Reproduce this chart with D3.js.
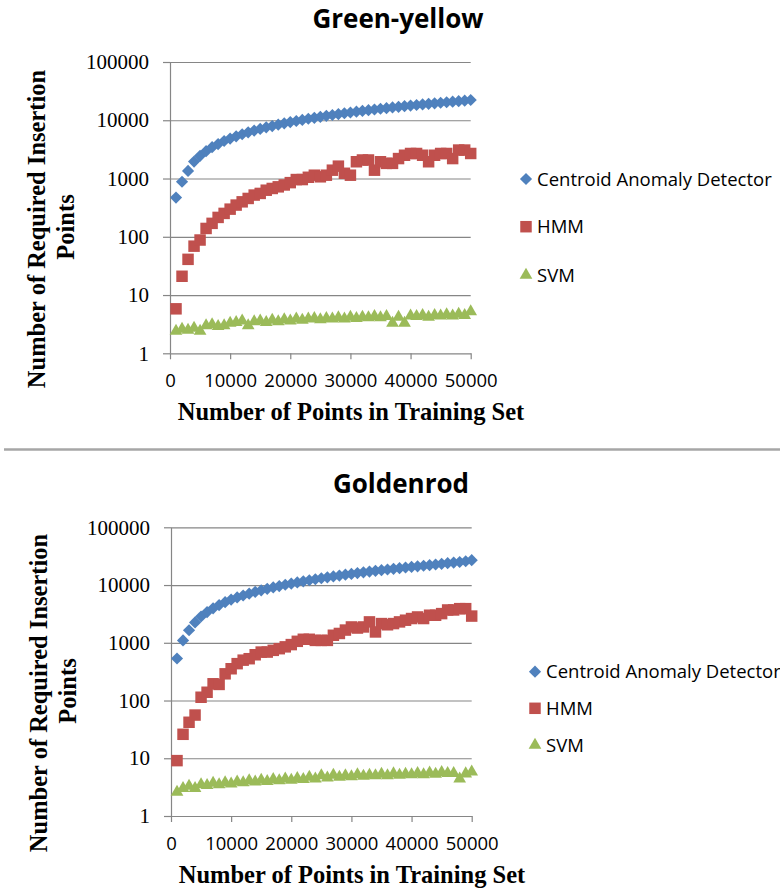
<!DOCTYPE html>
<html>
<head>
<meta charset="utf-8">
<script src="https://cdn.jsdelivr.net/npm/d3@7"></script>
<style>
  body { margin: 0; background: #fff; }
  svg { display: block; }
</style>
</head>
<body>
<div id="chart-area"></div>
<script>
var trainingSizes = [1000, 2000, 3000, 4000, 5000, 6000, 7000, 8000, 9000, 10000,
  11000, 12000, 13000, 14000, 15000, 16000, 17000, 18000, 19000, 20000,
  21000, 22000, 23000, 24000, 25000, 26000, 27000, 28000, 29000, 30000,
  31000, 32000, 33000, 34000, 35000, 36000, 37000, 38000, 39000, 40000,
  41000, 42000, 43000, 44000, 45000, 46000, 47000, 48000, 49000, 50000];

var seriesNames = ['Centroid Anomaly Detector', 'HMM', 'SVM'];
var xTicks = [0, 10000, 20000, 30000, 40000, 50000];
var yTicks = [1, 10, 100, 1000, 10000, 100000];
var chartTitles = ['Green-yellow', 'Goldenrod'];

// Green-yellow
var gyCentroid = [470, 880, 1350, 1950, 2450, 2950, 3450, 3900, 4400, 4850,
  5300, 5750, 6200, 6650, 7100, 7550, 7950, 8400, 8850, 9300,
  9700, 10150, 10600, 11000, 11450, 11900, 12300, 12750, 13200, 13600,
  14050, 14450, 14900, 15300, 15750, 16150, 16600, 17000, 17450, 17850,
  18300, 18700, 19150, 19550, 20000, 20400, 20850, 21250, 21700, 22300];
var gyHmm = [5.8, 21, 41, 69, 88, 139, 170, 215, 252, 298,
  350, 398, 455, 520, 555, 630, 675, 720, 775, 850,
  960, 960, 1050, 1140, 1070, 1140, 1390, 1630, 1230, 1140,
  1940, 2080, 2080, 1390, 1940, 1820, 1820, 2200, 2510, 2690,
  2690, 2510, 1940, 2510, 2690, 2690, 2200, 3080, 3080, 2690];
var gySvm = [2.4, 2.6, 2.5, 2.7, 2.4, 3.0, 3.1, 2.9, 3.0, 3.3,
  3.4, 3.6, 3.0, 3.5, 3.6, 3.4, 3.7, 3.5, 3.8, 3.6,
  3.9, 3.7, 3.9, 4.0, 3.8, 4.0, 3.9, 4.1, 3.9, 4.2,
  4.0, 4.2, 4.1, 4.3, 4.1, 4.3, 3.3, 4.2, 3.3, 4.4,
  4.3, 4.5, 4.2, 4.5, 4.4, 4.6, 4.4, 4.7, 4.5, 5.2];

// Goldenrod
var grCentroid = [535, 1100, 1650, 2250, 2850, 3400, 3950, 4500, 5050, 5600,
  6100, 6600, 7100, 7600, 8100, 8600, 9100, 9600, 10100, 10600,
  11100, 11600, 12100, 12600, 13100, 13600, 14100, 14600, 15100, 15600,
  16100, 16600, 17100, 17600, 18100, 18600, 19100, 19600, 20100, 20600,
  21100, 21600, 22100, 22700, 23300, 23900, 24500, 25100, 25800, 27000];
var grHmm = [9.1, 26, 42, 56, 114, 139, 195, 190, 290, 355,
  435, 500, 530, 620, 690, 690, 740, 790, 850, 930,
  1060, 1150, 1150, 1100, 1100, 1100, 1350, 1450, 1660, 1880,
  1800, 1880, 2300, 1540, 2150, 2050, 2150, 2300, 2460, 2630,
  2800, 2630, 3000, 3000, 3200, 3700, 3700, 3900, 3900, 2900];
var grSvm = [2.6, 3.0, 3.3, 3.0, 3.5, 3.4, 3.7, 3.5, 3.8, 3.6,
  3.9, 3.8, 4.1, 3.9, 4.2, 4.0, 4.3, 4.1, 4.4, 4.2,
  4.5, 4.3, 4.7, 4.4, 5.0, 4.6, 5.1, 4.7, 5.0, 4.8,
  5.2, 4.9, 5.1, 5.0, 5.3, 5.0, 5.4, 5.1, 5.3, 5.2,
  5.5, 5.2, 5.6, 5.3, 5.7, 5.5, 5.5, 4.4, 5.4, 5.8];

var colors = ['#4f81bd', '#c0504d', '#9bbb59'];
var gridColor = '#868686';

var svg = d3.select('#chart-area').append('svg')
  .attr('width', 780)
  .attr('height', 890);

// separator between the two charts
svg.append('line')
  .attr('x1', 4).attr('x2', 780)
  .attr('y1', 449.5).attr('y2', 449.5)
  .attr('stroke', '#a6a6a6')
  .attr('stroke-width', 2.4);

function markerPath(i) {
  if (i === 0) return d3.symbol().type(d3.symbolSquare).size(74)();
  if (i === 1) return d3.symbol().type(d3.symbolSquare).size(132)();
  return d3.symbol().type(d3.symbolTriangle).size(70)();
}

function markerTransform(i, px, py) {
  return 'translate(' + px + ',' + py + ')' + (i === 0 ? ' rotate(45)' : '');
}

function drawChart(cfg) {
  var g = svg.append('g');

  var x = d3.scaleLinear()
    .domain([0, 50000])
    .range([cfg.left, cfg.right]);

  var y = d3.scaleLog()
    .domain([1, 100000])
    .range([cfg.bottom, cfg.top]);

  // horizontal gridlines
  g.append('g')
    .attr('transform', 'translate(' + cfg.left + ',0)')
    .call(d3.axisRight(y).tickValues(yTicks.slice(1)).tickSize(cfg.right - cfg.left).tickFormat(''))
    .call(function(a) {
      a.select('.domain').remove();
      a.selectAll('line').attr('stroke', gridColor).attr('stroke-width', 1.2);
    });

  var yAxis = g.append('g')
    .attr('transform', 'translate(' + cfg.left + ',0)')
    .call(d3.axisLeft(y).tickValues(yTicks).tickFormat(d3.format('d'))
      .tickSizeInner(7).tickSizeOuter(0).tickPadding(14));
  yAxis.select('.domain').attr('stroke', gridColor).attr('stroke-width', 1.2);
  yAxis.selectAll('line').attr('stroke', gridColor).attr('stroke-width', 1.2);
  yAxis.selectAll('text')
    .attr('fill', '#000')
    .style('font-family', '"Liberation Serif", "Times New Roman", serif')
    .style('font-size', '21px');

  var xAxis = g.append('g')
    .attr('transform', 'translate(0,' + cfg.bottom + ')')
    .call(d3.axisBottom(x).tickValues(xTicks).tickFormat(d3.format('d'))
      .tickSizeInner(6).tickSizeOuter(0).tickPadding(15));
  xAxis.select('.domain').attr('stroke', gridColor).attr('stroke-width', 1.2);
  xAxis.selectAll('line').attr('stroke', gridColor).attr('stroke-width', 1.2);
  xAxis.selectAll('text')
    .attr('fill', '#000')
    .style('font-family', '"Open Sans", sans-serif')
    .style('font-size', '18.5px');

  // series markers
  cfg.series.forEach(function(values, i) {
    g.append('g').selectAll('path')
      .data(values)
      .enter()
      .append('path')
        .attr('d', markerPath(i))
        .attr('transform', function(d, j) {
          return markerTransform(i, x(trainingSizes[j]), y(d));
        })
        .attr('fill', colors[i]);
  });

  // title
  g.append('text')
    .attr('x', cfg.titleX)
    .attr('y', cfg.titleY)
    .attr('text-anchor', 'middle')
    .style('font-family', '"Open Sans", sans-serif')
    .style('font-weight', 'bold')
    .style('font-size', '26px')
    .text(cfg.title);

  // axis titles
  g.append('text')
    .attr('x', cfg.xLabelX)
    .attr('y', cfg.bottom + 67)
    .attr('text-anchor', 'middle')
    .style('font-family', '"Liberation Serif", "Times New Roman", serif')
    .style('font-weight', 'bold')
    .style('font-size', '24.5px')
    .text('Number of Points in Training Set');

  var yl = g.append('text')
    .attr('transform', 'translate(' + cfg.yLabelX + ',' + cfg.yLabelY + ') rotate(-90)')
    .attr('text-anchor', 'middle')
    .style('font-family', '"Liberation Serif", "Times New Roman", serif')
    .style('font-weight', 'bold')
    .style('font-size', '24.5px');
  yl.append('tspan').attr('x', 0).attr('dy', '0.35em').text('Number of Required Insertion');
  yl.append('tspan').attr('x', 2).attr('dy', '1.2em').text('Points');

  // legend
  var legend = g.append('g');
  seriesNames.forEach(function(name, i) {
    var ly = cfg.legendY[i];
    legend.append('path')
      .attr('d', markerPath(i))
      .attr('transform', markerTransform(i, cfg.legendX, ly))
      .attr('fill', colors[i]);
    legend.append('text')
      .attr('x', cfg.legendX + 11)
      .attr('y', ly)
      .attr('dy', '0.36em')
      .style('font-family', '"Open Sans", sans-serif')
      .style('font-size', '18.5px')
      .attr('fill', '#000')
      .text(name);
  });
}

drawChart({
  title: chartTitles[0],
  series: [gyCentroid, gyHmm, gySvm],
  left: 170, right: 470.7, top: 62, bottom: 353.3,
  titleX: 398, titleY: 28,
  xLabelX: 351,
  yLabelX: 36, yLabelY: 229,
  legendX: 526, legendY: [179, 226.7, 275]
});

drawChart({
  title: chartTitles[1],
  series: [grCentroid, grHmm, grSvm],
  left: 171, right: 471.7, top: 527.3, bottom: 816,
  titleX: 401, titleY: 493,
  xLabelX: 352,
  yLabelX: 38, yLabelY: 693,
  legendX: 535, legendY: [671.7, 708.3, 745]
});
</script>
</body>
</html>
